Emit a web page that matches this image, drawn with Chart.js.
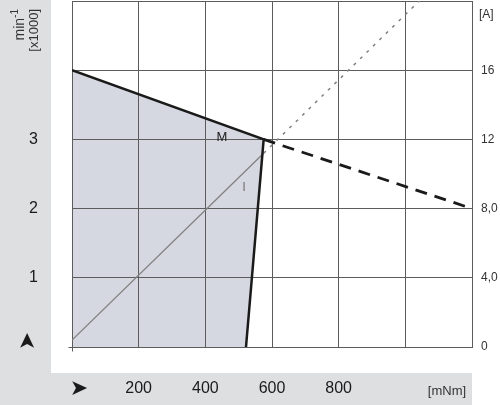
<!DOCTYPE html>
<html>
<head>
<meta charset="utf-8">
<script src="https://cdn.jsdelivr.net/npm/chart.js@4.4.1/dist/chart.umd.min.js"></script>
<style>
  html, body { margin: 0; padding: 0; background: #fff; }
</style>
</head>
<body>
<canvas id="chart" width="500" height="405"></canvas>
<script>
// --- datos ---
// zona de trabajo (n = f(M)), borde grueso
const areaTorque = [0, 0, 575, 522];
const areaSpeed = [0, 4, 3.0, 0];
const speedTorque = [0, 575, 522];
const speedValues = [4, 3.0, 0];
// prolongación discontinua de la recta n(M)
const speedDashTorque = [575, 1200];
const speedDashValues = [3.0, 2.0];
// corriente I(M), eje derecho [A]
const currentTorque = [0, 575];
const currentValues = [0.4, 11.2];
const currentDotTorque = [575, 1100];
const currentDotValues = [11.2, 21.1];

// etiquetas de los ejes
const xTickLabels = ['', '200', '400', '600', '800', '', ''];
const speedTickLabels = ['', '1', '2', '3', '', ''];
const currentTickLabels = ['0', '4,0', '8,0', '12', '16', ''];

const FONT = '"Liberation Sans", Arial, sans-serif';
const GRID = '#5c5c5c';
const BAND = '#dedfe1';

const pts = (xs, ys) => xs.map((x, i) => ({ x: x, y: ys[i] }));

// sin márgenes extra de las etiquetas: el área del gráfico la fijamos a mano
const fixPadding = s => {
    s.paddingTop = 0;
    s.paddingBottom = 0;
    s.paddingLeft = 0;
    s.paddingRight = 0;
};

// bandas grises, flechas y textos de unidades
const decorPlugin = {
    id: 'decor',
    beforeDraw(chart) {
        const ctx = chart.ctx;
        ctx.save();
        ctx.fillStyle = BAND;
        ctx.fillRect(0, 0, 51, 373);
        ctx.fillRect(0, 373, 472, 32);
        ctx.restore();
    },
    afterDraw(chart) {
        const ctx = chart.ctx;
        const x = chart.scales.x, y = chart.scales.y, y2 = chart.scales.y2;
        const base = Math.round(y.getPixelForValue(0)) + 0.5;
        const left = Math.round(x.getPixelForValue(0)) + 0.5;
        ctx.save();

        // pequeña prolongación del eje en el origen
        ctx.strokeStyle = GRID;
        ctx.lineWidth = 1;
        ctx.beginPath();
        ctx.moveTo(left - 4, base);
        ctx.lineTo(left, base);
        ctx.moveTo(left, base);
        ctx.lineTo(left, base + 4);
        ctx.stroke();

        ctx.fillStyle = '#1a1a1a';
        ctx.textBaseline = 'middle';

        // flechas
        ctx.font = '22px "DejaVu Sans"';
        ctx.textAlign = 'center';
        ctx.fillText('➤', 79, 389);
        ctx.save();
        ctx.translate(28, 341);
        ctx.rotate(-Math.PI / 2);
        ctx.fillText('➤', 0, 0);
        ctx.restore();

        // unidades
        ctx.font = '13px ' + FONT;
        ctx.fillStyle = '#333';
        ctx.textAlign = 'center';
        ctx.textBaseline = 'alphabetic';
        ctx.fillText('[mNm]', 447, 395);
        ctx.textBaseline = 'middle';
        ctx.font = '12px ' + FONT;
        ctx.textAlign = 'left';
        ctx.fillText('[A]', 479, 15);

        // min-1 [x1000] girado
        ctx.save();
        ctx.translate(34, 9);
        ctx.rotate(-Math.PI / 2);
        ctx.textAlign = 'right';
        ctx.font = '13px ' + FONT;
        ctx.fillText('[x1000]', 0, 0);
        ctx.restore();

        ctx.save();
        ctx.translate(20, 9);
        ctx.rotate(-Math.PI / 2);
        ctx.textAlign = 'right';
        ctx.font = '10px ' + FONT;
        const w1 = ctx.measureText('-1').width;
        ctx.fillText('-1', 0, -5);
        ctx.font = '14px ' + FONT;
        ctx.fillText('min', -w1, 0);
        ctx.restore();

        // etiquetas de las curvas
        ctx.font = '13px ' + FONT;
        ctx.textAlign = 'center';
        ctx.fillStyle = '#1a1a1a';
        ctx.fillText('M', x.getPixelForValue(450), y.getPixelForValue(3.03));
        ctx.fillStyle = '#777';
        ctx.fillText('I', x.getPixelForValue(516), y2.getPixelForValue(9.25));

        ctx.restore();
    }
};

new Chart(document.getElementById('chart'), {
    type: 'line',
    data: {
        datasets: [
            {
                data: pts(areaTorque, areaSpeed),
                yAxisID: 'y',
                fill: 'shape',
                backgroundColor: '#d5d8e0',
                borderWidth: 0,
                pointRadius: 0
            },
            {
                data: pts(speedTorque, speedValues),
                yAxisID: 'y',
                borderColor: '#1a1a1a',
                borderWidth: 2.5,
                pointRadius: 0,
                fill: false
            },
            {
                data: pts(speedDashTorque, speedDashValues),
                yAxisID: 'y',
                borderColor: '#1a1a1a',
                borderWidth: 2.8,
                borderDash: [12, 8],
                pointRadius: 0,
                fill: false
            },
            {
                data: pts(currentTorque, currentValues),
                yAxisID: 'y2',
                borderColor: '#808080',
                borderWidth: 1.3,
                pointRadius: 0,
                fill: false
            },
            {
                data: pts(currentDotTorque, currentDotValues),
                yAxisID: 'y2',
                borderColor: '#808080',
                borderWidth: 1.5,
                borderDash: [3, 6],
                pointRadius: 0,
                fill: false
            }
        ]
    },
    options: {
        responsive: false,
        animation: false,
        layout: { padding: { top: 1 } },
        plugins: {
            legend: { display: false },
            tooltip: { enabled: false },
            filler: { drawTime: 'beforeDraw' }
        },
        scales: {
            x: {
                type: 'linear',
                min: 0,
                max: 1200,
                afterFit: s => { s.height = 58; fixPadding(s); },
                ticks: {
                    stepSize: 200,
                    padding: 32,
                    color: '#1a1a1a',
                    font: { family: FONT, size: 16 },
                    maxRotation: 0,
                    autoSkip: false,
                    callback: (v, i) => xTickLabels[i]
                },
                grid: { color: GRID, drawTicks: false },
                border: { color: GRID }
            },
            y: {
                position: 'left',
                min: 0,
                max: 5,
                afterFit: s => { s.width = 72; fixPadding(s); },
                ticks: {
                    stepSize: 1,
                    padding: 34,
                    color: '#1a1a1a',
                    font: { family: FONT, size: 16 },
                    callback: (v, i) => speedTickLabels[i]
                },
                grid: { color: GRID, drawTicks: false },
                border: { color: GRID }
            },
            y2: {
                position: 'right',
                min: 0,
                max: 20,
                afterFit: s => { s.width = 28; fixPadding(s); },
                ticks: {
                    stepSize: 4,
                    padding: 9,
                    color: '#333',
                    font: { family: FONT, size: 12 },
                    callback: (v, i) => currentTickLabels[i]
                },
                grid: { display: false, drawTicks: false },
                border: { display: false }
            }
        }
    },
    plugins: [decorPlugin]
});
</script>
</body>
</html>
